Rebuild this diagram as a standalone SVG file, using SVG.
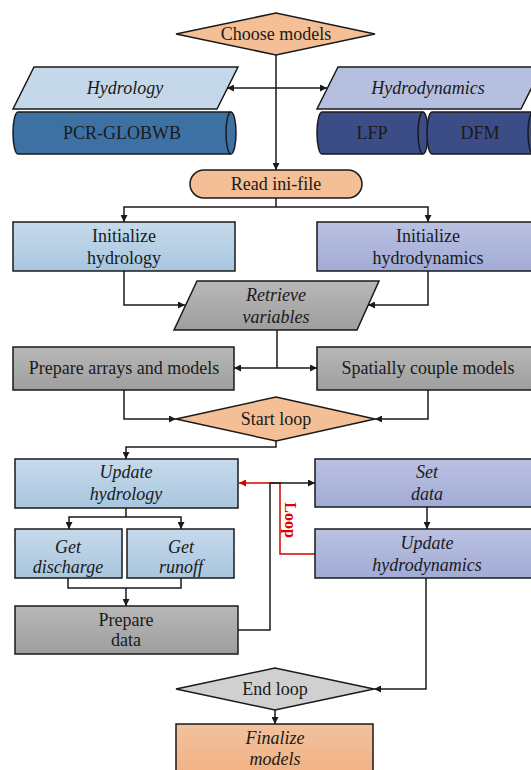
<svg xmlns="http://www.w3.org/2000/svg" width="531" height="770" viewBox="0 0 531 770" font-family="'Liberation Serif', serif">
<defs>
<linearGradient id="gBlue" x1="0" y1="0" x2="0" y2="1"><stop offset="0" stop-color="#c6daeb"/><stop offset="1" stop-color="#a8c6df"/></linearGradient>
<linearGradient id="gPurp" x1="0" y1="0" x2="0" y2="1"><stop offset="0" stop-color="#bac1e2"/><stop offset="1" stop-color="#a2abd6"/></linearGradient>
<linearGradient id="gGray" x1="0" y1="0" x2="0" y2="1"><stop offset="0" stop-color="#b8b8b8"/><stop offset="1" stop-color="#9e9e9e"/></linearGradient>
<linearGradient id="gOrange" x1="0" y1="0" x2="0" y2="1"><stop offset="0" stop-color="#f1c29e"/><stop offset="1" stop-color="#f2ae7e"/></linearGradient>
<marker id="ah" viewBox="0 0 10 10" refX="10" refY="5" markerWidth="7" markerHeight="7" markerUnits="userSpaceOnUse" orient="auto-start-reverse"><path d="M0,0 L10,5 L0,10 Z" fill="#1a1a1a"/></marker>
<marker id="ahr" viewBox="0 0 10 10" refX="10" refY="5" markerWidth="7" markerHeight="7" markerUnits="userSpaceOnUse" orient="auto-start-reverse"><path d="M0,0 L10,5 L0,10 Z" fill="#d40000"/></marker>
</defs>
<style>
.s{stroke:#1a1a1a;stroke-width:1.5}
.t{font-family:'Liberation Serif',serif;font-size:18px;fill:#1a1a1a;text-anchor:middle}
.i{font-style:italic}
.c{fill:none;stroke:#1a1a1a;stroke-width:1.5}
.r{fill:none;stroke:#d40000;stroke-width:1.5}
</style>
<g id="connectors">
<path class="c" d="M276,55 V170" marker-end="url(#ah)"/>
<path class="c" d="M227,88 H327" marker-start="url(#ah)" marker-end="url(#ah)"/>
<path class="c" d="M276,198 V207"/>
<path class="c" d="M124,222 V207 H428 V222" marker-start="url(#ah)" marker-end="url(#ah)"/>
<path class="c" d="M124,271 V305 H185" marker-end="url(#ah)"/>
<path class="c" d="M428,271 V305 H368" marker-end="url(#ah)"/>
<path class="c" d="M277,330 V368"/>
<path class="c" d="M234,368 H317" marker-start="url(#ah)" marker-end="url(#ah)"/>
<path class="c" d="M124,390 V419 H176" marker-end="url(#ah)"/>
<path class="c" d="M428,390 V419 H375" marker-end="url(#ah)"/>
<path class="c" d="M276,441 V447 H126 V459" marker-end="url(#ah)"/>
<path class="c" d="M126,508 V517"/>
<path class="c" d="M69,529 V517 H181 V529" marker-start="url(#ah)" marker-end="url(#ah)"/>
<path class="c" d="M68,578 V588 H181 V578"/>
<path class="c" d="M126,588 V606" marker-end="url(#ah)"/>
<path class="r" d="M315,554 H280 V483 H239" marker-end="url(#ahr)"/>
<path class="c" d="M238,630 H270 V483 H315" marker-end="url(#ah)"/>
<path class="c" d="M427,507 V529" marker-end="url(#ah)"/>
<path class="c" d="M426,578 V689 H374" marker-end="url(#ah)"/>
<path class="c" d="M275,710 V724" marker-end="url(#ah)"/>
<text x="290" y="520" transform="rotate(90 290 520)" style="font-family:'Liberation Serif',serif;font-size:16px;font-weight:bold;fill:#e00000;text-anchor:middle;dominant-baseline:central">Loop</text>
</g>
<g id="choose-models">
<polygon class="s" points="176,34 276,13 375,34 276,55" fill="#f4bf96"/>
<text class="t" x="276" y="40">Choose models</text>
</g>
<g id="hydrology">
<polygon class="s" points="34,67 238,67 217,109 13,109" fill="#c4d8ea"/>
<text class="t i" x="125" y="94">Hydrology</text>
</g>
<g id="hydrodynamics">
<polygon class="s" points="338,67 542,67 521,109 317,109" fill="#b6bfe0"/>
<text class="t i" x="428" y="94">Hydrodynamics</text>
</g>
<g id="pcr-globwb">
<path class="s" d="M18,112 H231 A5,21 0 0 1 231,154 H18 A5,21 0 0 1 18,112 Z" fill="#3e71a3"/>
<path class="c" d="M231,112 A5,21 0 0 0 231,154"/>
<text class="t" x="122" y="139">PCR-GLOBWB</text>
</g>
<g id="lfp">
<path class="s" d="M322,112 H423 A5,21 0 0 1 423,154 H322 A5,21 0 0 1 322,112 Z" fill="#3b4c86"/>
<path class="c" d="M423,112 A5,21 0 0 0 423,154"/>
<text class="t" x="372" y="139">LFP</text>
</g>
<g id="dfm">
<path class="s" d="M432,112 H533 A5,21 0 0 1 533,154 H432 A5,21 0 0 1 432,112 Z" fill="#3b4c86"/>
<path class="c" d="M533,112 A5,21 0 0 0 533,154"/>
<text class="t" x="480" y="139">DFM</text>
</g>
<g id="read-ini">
<rect class="s" x="190" y="170" width="172" height="28" rx="14" fill="#f4bf96"/>
<text class="t" x="276" y="190">Read ini-file</text>
</g>
<g id="init-hydrology">
<rect class="s" x="13" y="222" width="222" height="49" fill="url(#gBlue)"/>
<text class="t" x="124" y="242">Initialize</text>
<text class="t" x="124" y="264">hydrology</text>
</g>
<g id="init-hydrodynamics">
<rect class="s" x="317" y="222" width="222" height="49" fill="url(#gPurp)"/>
<text class="t" x="428" y="242">Initialize</text>
<text class="t" x="428" y="264">hydrodynamics</text>
</g>
<g id="retrieve">
<polygon class="s" points="197,281 379,281 357,330 174,330" fill="url(#gGray)"/>
<text class="t i" x="276" y="301">Retrieve</text>
<text class="t i" x="276" y="323">variables</text>
</g>
<g id="prepare-arrays">
<rect class="s" x="13" y="347" width="221" height="43" fill="url(#gGray)"/>
<text class="t" x="124" y="374">Prepare arrays and models</text>
</g>
<g id="spatially-couple">
<rect class="s" x="317" y="347" width="222" height="43" fill="url(#gGray)"/>
<text class="t" x="428" y="374">Spatially couple models</text>
</g>
<g id="start-loop">
<polygon class="s" points="176,419 276,397 375,419 276,441" fill="#f4bf96"/>
<text class="t" x="276" y="425">Start loop</text>
</g>
<g id="update-hydrology">
<rect class="s" x="15" y="459" width="223" height="49" fill="url(#gBlue)"/>
<text class="t i" x="126" y="478">Update</text>
<text class="t i" x="126" y="500">hydrology</text>
</g>
<g id="set-data">
<rect class="s" x="315" y="459" width="224" height="48" fill="url(#gPurp)"/>
<text class="t i" x="427" y="478">Set</text>
<text class="t i" x="427" y="500">data</text>
</g>
<g id="get-discharge">
<rect class="s" x="15" y="529" width="107" height="49" fill="url(#gBlue)"/>
<text class="t i" x="68" y="553">Get</text>
<text class="t i" x="68" y="573">discharge</text>
</g>
<g id="get-runoff">
<rect class="s" x="127" y="529" width="107" height="49" fill="url(#gBlue)"/>
<text class="t i" x="181" y="553">Get</text>
<text class="t i" x="181" y="573">runoff</text>
</g>
<g id="update-hydrodynamics">
<rect class="s" x="315" y="529" width="224" height="49" fill="url(#gPurp)"/>
<text class="t i" x="427" y="549">Update</text>
<text class="t i" x="427" y="571">hydrodynamics</text>
</g>
<g id="prepare-data">
<rect class="s" x="15" y="606" width="223" height="48" fill="url(#gGray)"/>
<text class="t" x="126" y="626">Prepare</text>
<text class="t" x="126" y="646">data</text>
</g>
<g id="end-loop">
<polygon class="s" points="176,689 275,668 374,689 275,710" fill="#d0d0d0"/>
<text class="t" x="275" y="695">End loop</text>
</g>
<g id="finalize">
<rect class="s" x="176" y="724" width="197" height="60" fill="url(#gOrange)"/>
<text class="t i" x="275" y="744">Finalize</text>
<text class="t i" x="275" y="765">models</text>
</g>
</svg>
